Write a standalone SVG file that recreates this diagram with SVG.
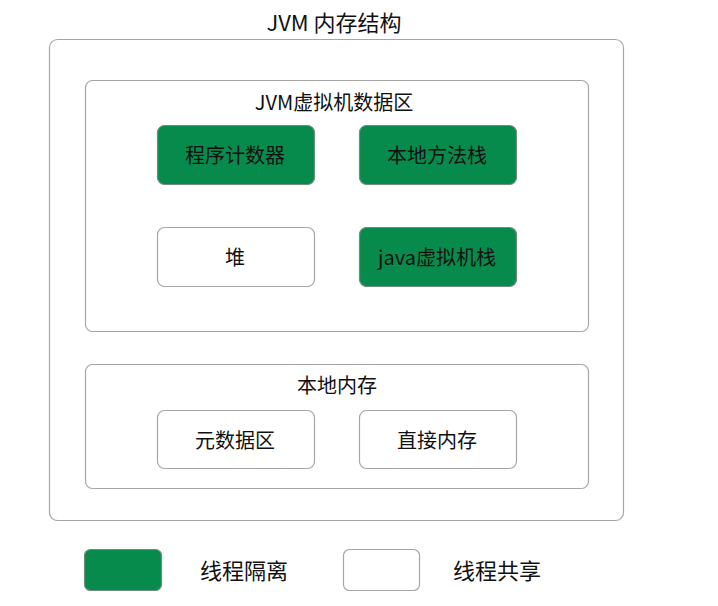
<svg xmlns="http://www.w3.org/2000/svg" width="718" height="606" viewBox="0 0 718 606">
<style>
text{font-family:"Noto Sans CJK SC","Noto Sans",sans-serif;fill:#111;text-anchor:middle;dominant-baseline:central}
.frame{fill:#fff;stroke:#a6a6a6;stroke-width:1.2}
.g{fill:#078b4c;stroke:#6f8f7c;stroke-width:1.2}
.w{fill:#fff;stroke:#a6a6a6;stroke-width:1.2}
.t{font-size:20px}
.h{font-size:20px}
.l{font-size:22px}
</style>
<rect width="718" height="606" fill="#fff"/>
<g id="jvm">
<text x="334" y="21" style="font-size:22px">JVM 内存结构</text>
<rect class="frame" x="49.5" y="39.5" width="574" height="481" rx="8"/>
</g>
<g id="data-area">
<rect class="frame" x="85.5" y="80.5" width="503" height="251" rx="7"/>
<text class="h" x="334" y="101">JVM虚拟机数据区</text>
</g>
<g id="pc"><rect class="g" x="157.5" y="125.5" width="157" height="59" rx="7"/><text class="t" x="235" y="154">程序计数器</text></g>
<g id="native-stack"><rect class="g" x="359.5" y="125.5" width="157" height="59" rx="7"/><text class="t" x="437" y="154">本地方法栈</text></g>
<g id="heap"><rect class="w" x="157.5" y="227.5" width="157" height="59" rx="7"/><text class="t" x="235" y="256">堆</text></g>
<g id="jvm-stack"><rect class="g" x="359.5" y="227.5" width="157" height="59" rx="7"/><text class="t" x="437" y="256">java虚拟机栈</text></g>
<g id="native-mem">
<rect class="frame" x="85.5" y="364.5" width="503" height="124" rx="7"/>
<text class="h" x="337" y="384">本地内存</text>
</g>
<g id="metaspace"><rect class="w" x="157.5" y="410.5" width="157" height="58" rx="7"/><text class="t" x="235" y="439">元数据区</text></g>
<g id="direct"><rect class="w" x="359.5" y="410.5" width="157" height="58" rx="7"/><text class="t" x="437" y="439">直接内存</text></g>
<g id="legend-isolated"><rect class="g" x="84.5" y="549.5" width="77" height="41" rx="6"/><text class="l" x="244" y="569">线程隔离</text></g>
<g id="legend-shared"><rect class="w" x="343.5" y="549.5" width="76" height="41" rx="6"/><text class="l" x="497" y="569">线程共享</text></g>
<g id="connectors"></g>
</svg>
